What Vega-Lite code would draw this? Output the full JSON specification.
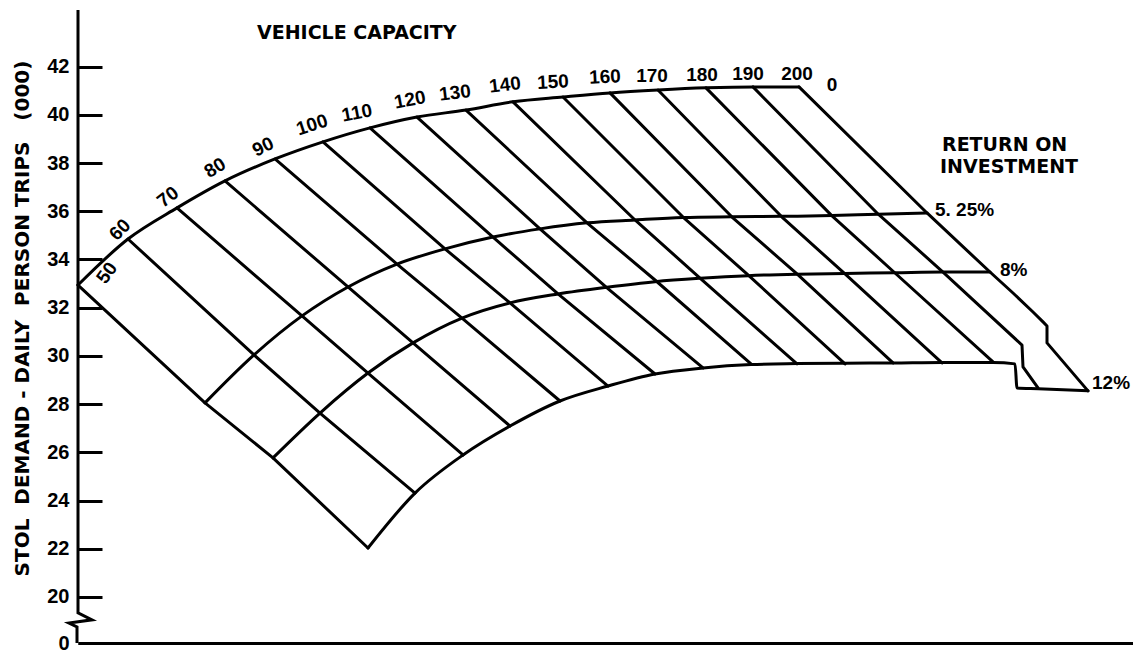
{
  "$schema": "https://vega.github.io/schema/vega-lite/v6.json",
  "width": 1055,
  "height": 633,
  "autosize": {"type": "none"},
  "padding": {"left": 78, "top": 10, "right": 0, "bottom": 9},
  "background": "white",
  "config": {
    "view": {"stroke": null},
    "text": {"font": "Liberation Sans", "fontWeight": "bold", "fontSize": 19, "color": "black"},
    "line": {"color": "black", "strokeWidth": 3, "strokeJoin": "round", "strokeCap": "round"}
  },
  "datasets": {
    "curves": [
      {"family": "cap", "line": "C50", "x": 78, "demand": 32.94},
      {"family": "cap", "line": "C50", "x": 205, "demand": 28.05},
      {"family": "cap", "line": "C50", "x": 273, "demand": 25.77},
      {"family": "cap", "line": "C50", "x": 368, "demand": 22.03},
      {"family": "cap", "line": "C60", "x": 128, "demand": 34.85},
      {"family": "cap", "line": "C60", "x": 254, "demand": 30.04},
      {"family": "cap", "line": "C60", "x": 320, "demand": 27.63},
      {"family": "cap", "line": "C60", "x": 415, "demand": 24.31},
      {"family": "cap", "line": "C70", "x": 177, "demand": 36.14},
      {"family": "cap", "line": "C70", "x": 302, "demand": 31.66},
      {"family": "cap", "line": "C70", "x": 368, "demand": 29.29},
      {"family": "cap", "line": "C70", "x": 463, "demand": 25.89},
      {"family": "cap", "line": "C80", "x": 225, "demand": 37.26},
      {"family": "cap", "line": "C80", "x": 348, "demand": 32.86},
      {"family": "cap", "line": "C80", "x": 413, "demand": 30.54},
      {"family": "cap", "line": "C80", "x": 510, "demand": 27.09},
      {"family": "cap", "line": "C90", "x": 275, "demand": 38.17},
      {"family": "cap", "line": "C90", "x": 397, "demand": 33.81},
      {"family": "cap", "line": "C90", "x": 462, "demand": 31.57},
      {"family": "cap", "line": "C90", "x": 560, "demand": 28.13},
      {"family": "cap", "line": "C100", "x": 323, "demand": 38.88},
      {"family": "cap", "line": "C100", "x": 445, "demand": 34.44},
      {"family": "cap", "line": "C100", "x": 510, "demand": 32.2},
      {"family": "cap", "line": "C100", "x": 608, "demand": 28.75},
      {"family": "cap", "line": "C110", "x": 370, "demand": 39.46},
      {"family": "cap", "line": "C110", "x": 493, "demand": 34.93},
      {"family": "cap", "line": "C110", "x": 558, "demand": 32.57},
      {"family": "cap", "line": "C110", "x": 655, "demand": 29.25},
      {"family": "cap", "line": "C120", "x": 417, "demand": 39.91},
      {"family": "cap", "line": "C120", "x": 540, "demand": 35.27},
      {"family": "cap", "line": "C120", "x": 607, "demand": 32.82},
      {"family": "cap", "line": "C120", "x": 703, "demand": 29.5},
      {"family": "cap", "line": "C130", "x": 466, "demand": 40.2},
      {"family": "cap", "line": "C130", "x": 587, "demand": 35.52},
      {"family": "cap", "line": "C130", "x": 655, "demand": 33.15},
      {"family": "cap", "line": "C130", "x": 751, "demand": 29.67},
      {"family": "cap", "line": "C140", "x": 513, "demand": 40.54},
      {"family": "cap", "line": "C140", "x": 635, "demand": 35.64},
      {"family": "cap", "line": "C140", "x": 700, "demand": 33.23},
      {"family": "cap", "line": "C140", "x": 797, "demand": 29.67},
      {"family": "cap", "line": "C150", "x": 563, "demand": 40.74},
      {"family": "cap", "line": "C150", "x": 683, "demand": 35.76},
      {"family": "cap", "line": "C150", "x": 748, "demand": 33.36},
      {"family": "cap", "line": "C150", "x": 845, "demand": 29.67},
      {"family": "cap", "line": "C160", "x": 610, "demand": 40.91},
      {"family": "cap", "line": "C160", "x": 732, "demand": 35.76},
      {"family": "cap", "line": "C160", "x": 797, "demand": 33.4},
      {"family": "cap", "line": "C160", "x": 893, "demand": 29.71},
      {"family": "cap", "line": "C170", "x": 658, "demand": 41.03},
      {"family": "cap", "line": "C170", "x": 782, "demand": 35.76},
      {"family": "cap", "line": "C170", "x": 845, "demand": 33.4},
      {"family": "cap", "line": "C170", "x": 942, "demand": 29.71},
      {"family": "cap", "line": "C180", "x": 706, "demand": 41.12},
      {"family": "cap", "line": "C180", "x": 832, "demand": 35.81},
      {"family": "cap", "line": "C180", "x": 895, "demand": 33.44},
      {"family": "cap", "line": "C180", "x": 993, "demand": 29.75},
      {"family": "cap", "line": "C190", "x": 753, "demand": 41.16},
      {"family": "cap", "line": "C190", "x": 878, "demand": 35.89},
      {"family": "cap", "line": "C190", "x": 943, "demand": 33.48},
      {"family": "cap", "line": "C190", "x": 1022, "demand": 30.45},
      {"family": "cap", "line": "C190", "x": 1023, "demand": 29.54},
      {"family": "cap", "line": "C190", "x": 1038, "demand": 28.67},
      {"family": "cap", "line": "C200", "x": 799, "demand": 41.16},
      {"family": "cap", "line": "C200", "x": 927, "demand": 35.93},
      {"family": "cap", "line": "C200", "x": 990, "demand": 33.48},
      {"family": "cap", "line": "C200", "x": 1013, "demand": 32.61},
      {"family": "cap", "line": "C200", "x": 1033, "demand": 31.82},
      {"family": "cap", "line": "C200", "x": 1043, "demand": 31.41},
      {"family": "cap", "line": "C200", "x": 1047, "demand": 31.24},
      {"family": "cap", "line": "C200", "x": 1047, "demand": 30.54},
      {"family": "cap", "line": "C200", "x": 1088, "demand": 28.55},

      {"family": "roi", "line": "R0", "x": 78, "demand": 32.94},
      {"family": "roi", "line": "R0", "x": 128, "demand": 34.85},
      {"family": "roi", "line": "R0", "x": 177, "demand": 36.14},
      {"family": "roi", "line": "R0", "x": 225, "demand": 37.26},
      {"family": "roi", "line": "R0", "x": 275, "demand": 38.17},
      {"family": "roi", "line": "R0", "x": 323, "demand": 38.88},
      {"family": "roi", "line": "R0", "x": 370, "demand": 39.46},
      {"family": "roi", "line": "R0", "x": 417, "demand": 39.91},
      {"family": "roi", "line": "R0", "x": 466, "demand": 40.2},
      {"family": "roi", "line": "R0", "x": 513, "demand": 40.54},
      {"family": "roi", "line": "R0", "x": 563, "demand": 40.74},
      {"family": "roi", "line": "R0", "x": 610, "demand": 40.91},
      {"family": "roi", "line": "R0", "x": 658, "demand": 41.03},
      {"family": "roi", "line": "R0", "x": 706, "demand": 41.12},
      {"family": "roi", "line": "R0", "x": 753, "demand": 41.16},
      {"family": "roi", "line": "R0", "x": 799, "demand": 41.16},

      {"family": "roi", "line": "R5.25", "x": 205, "demand": 28.05},
      {"family": "roi", "line": "R5.25", "x": 254, "demand": 30.04},
      {"family": "roi", "line": "R5.25", "x": 302, "demand": 31.66},
      {"family": "roi", "line": "R5.25", "x": 348, "demand": 32.86},
      {"family": "roi", "line": "R5.25", "x": 397, "demand": 33.81},
      {"family": "roi", "line": "R5.25", "x": 445, "demand": 34.44},
      {"family": "roi", "line": "R5.25", "x": 493, "demand": 34.93},
      {"family": "roi", "line": "R5.25", "x": 540, "demand": 35.27},
      {"family": "roi", "line": "R5.25", "x": 587, "demand": 35.52},
      {"family": "roi", "line": "R5.25", "x": 635, "demand": 35.64},
      {"family": "roi", "line": "R5.25", "x": 683, "demand": 35.74},
      {"family": "roi", "line": "R5.25", "x": 732, "demand": 35.77},
      {"family": "roi", "line": "R5.25", "x": 782, "demand": 35.79},
      {"family": "roi", "line": "R5.25", "x": 832, "demand": 35.82},
      {"family": "roi", "line": "R5.25", "x": 878, "demand": 35.88},
      {"family": "roi", "line": "R5.25", "x": 927, "demand": 35.93},

      {"family": "roi", "line": "R8", "x": 273, "demand": 25.77},
      {"family": "roi", "line": "R8", "x": 320, "demand": 27.63},
      {"family": "roi", "line": "R8", "x": 368, "demand": 29.29},
      {"family": "roi", "line": "R8", "x": 413, "demand": 30.54},
      {"family": "roi", "line": "R8", "x": 462, "demand": 31.57},
      {"family": "roi", "line": "R8", "x": 510, "demand": 32.2},
      {"family": "roi", "line": "R8", "x": 558, "demand": 32.57},
      {"family": "roi", "line": "R8", "x": 607, "demand": 32.85},
      {"family": "roi", "line": "R8", "x": 655, "demand": 33.08},
      {"family": "roi", "line": "R8", "x": 700, "demand": 33.22},
      {"family": "roi", "line": "R8", "x": 748, "demand": 33.33},
      {"family": "roi", "line": "R8", "x": 797, "demand": 33.39},
      {"family": "roi", "line": "R8", "x": 845, "demand": 33.42},
      {"family": "roi", "line": "R8", "x": 895, "demand": 33.45},
      {"family": "roi", "line": "R8", "x": 943, "demand": 33.48},
      {"family": "roi", "line": "R8", "x": 990, "demand": 33.48},

      {"family": "roi", "line": "R12", "x": 368, "demand": 22.03},
      {"family": "roi", "line": "R12", "x": 415, "demand": 24.31},
      {"family": "roi", "line": "R12", "x": 463, "demand": 25.89},
      {"family": "roi", "line": "R12", "x": 510, "demand": 27.09},
      {"family": "roi", "line": "R12", "x": 560, "demand": 28.13},
      {"family": "roi", "line": "R12", "x": 608, "demand": 28.75},
      {"family": "roi", "line": "R12", "x": 655, "demand": 29.25},
      {"family": "roi", "line": "R12", "x": 703, "demand": 29.5},
      {"family": "roi", "line": "R12", "x": 751, "demand": 29.64},
      {"family": "roi", "line": "R12", "x": 797, "demand": 29.68},
      {"family": "roi", "line": "R12", "x": 845, "demand": 29.7},
      {"family": "roi", "line": "R12", "x": 893, "demand": 29.71},
      {"family": "roi", "line": "R12", "x": 942, "demand": 29.73},
      {"family": "roi", "line": "R12", "x": 993, "demand": 29.73},
      {"family": "roi", "line": "R12", "x": 1015, "demand": 29.67},
      {"family": "roi", "line": "R12", "x": 1017, "demand": 28.67},
      {"family": "roi", "line": "R12", "x": 1038, "demand": 28.64},
      {"family": "roi", "line": "R12", "x": 1088, "demand": 28.55}
    ],
    "axisline": [
      {"x": 78, "demand": 44.35},
      {"x": 78, "demand": 19.34},
      {"x": 92, "demand": 19.05},
      {"x": 69, "demand": 18.92},
      {"x": 77, "demand": 18.76},
      {"x": 77, "demand": 18.09}
    ],
    "caplabels": [
      {"label": "50", "x": 107, "demand": 33.44},
      {"label": "60", "x": 120, "demand": 35.23},
      {"label": "70", "x": 168, "demand": 36.59},
      {"label": "80", "x": 215, "demand": 37.8},
      {"label": "90", "x": 263, "demand": 38.67},
      {"label": "100", "x": 312, "demand": 39.58},
      {"label": "110", "x": 357, "demand": 40.08},
      {"label": "120", "x": 410, "demand": 40.62},
      {"label": "130", "x": 455, "demand": 40.91},
      {"label": "140", "x": 505, "demand": 41.24},
      {"label": "150", "x": 553, "demand": 41.36},
      {"label": "160", "x": 605, "demand": 41.57},
      {"label": "170", "x": 652, "demand": 41.61},
      {"label": "180", "x": 702, "demand": 41.66},
      {"label": "190", "x": 748, "demand": 41.7},
      {"label": "200", "x": 797, "demand": 41.7},
      {"label": "0", "x": 832, "demand": 41.24}
    ],
    "roilabels": [
      {"label": "5. 25%", "x": 935, "demand": 36.05},
      {"label": "8%", "x": 1000, "demand": 33.57},
      {"label": "12%", "x": 1092, "demand": 28.88}
    ],
    "titles": [
      {"label": "VEHICLE CAPACITY", "x": 257, "demand": 43.4},
      {"label": "RETURN ON", "x": 942, "demand": 38.77},
      {"label": "INVESTMENT", "x": 940, "demand": 37.82}
    ]
  },
  "encoding": {
    "x": {
      "field": "x", "type": "quantitative",
      "scale": {"domain": [78, 1133], "nice": false, "zero": false},
      "axis": {"domain": true, "domainWidth": 3, "domainColor": "black", "ticks": false, "labels": false, "grid": false, "title": null}
    },
    "y": {
      "field": "demand", "type": "quantitative",
      "scale": {"domain": [18.09, 44.35], "nice": false, "zero": false},
      "axis": {
        "values": [18.09, 20, 22, 24, 26, 28, 30, 32, 34, 36, 38, 40, 42],
        "labelExpr": "datum.value < 19 ? '0' : datum.label",
        "domain": false, "grid": false,
        "tickSize": -24, "tickWidth": 3, "tickColor": "black",
        "labelFont": "Liberation Sans", "labelFontWeight": "bold", "labelFontSize": 20, "labelColor": "black",
        "labelPadding": 33, "labelFlush": false, "labelOverlap": false, "labelBound": false,
        "title": "STOL\u00a0 DEMAND - DAILY\u00a0 PERSON TRIPS\u00a0 \u00a0(000)",
        "titleFont": "DejaVu Sans", "titleFontWeight": "bold", "titleFontSize": 20, "titleColor": "black",
        "titlePadding": 14, "titleY": 308
      }
    }
  },
  "layer": [
    {
      "data": {"name": "curves"},
      "transform": [{"filter": "datum.family == 'cap'"}],
      "mark": {"type": "line", "interpolate": "linear"},
      "encoding": {"detail": {"field": "line"}, "order": {"field": "demand", "sort": "descending"}}
    },
    {
      "data": {"name": "curves"},
      "transform": [{"filter": "datum.family == 'roi'"}],
      "mark": {"type": "line", "interpolate": "monotone"},
      "encoding": {"detail": {"field": "line"}, "order": {"field": "x", "sort": "ascending"}}
    },
    {
      "data": {"name": "axisline"},
      "mark": {"type": "line", "strokeJoin": "miter", "strokeCap": "butt"},
      "encoding": {"order": {"field": "demand", "sort": "descending"}}
    },
    {"data": {"name": "caplabels"}, "transform": [{"filter": {"field": "label", "oneOf": ["50"]}}], "mark": {"type": "text", "angle": 305}, "encoding": {"text": {"field": "label"}}},
    {"data": {"name": "caplabels"}, "transform": [{"filter": {"field": "label", "oneOf": ["60"]}}], "mark": {"type": "text", "angle": 315}, "encoding": {"text": {"field": "label"}}},
    {"data": {"name": "caplabels"}, "transform": [{"filter": {"field": "label", "oneOf": ["70"]}}], "mark": {"type": "text", "angle": 322}, "encoding": {"text": {"field": "label"}}},
    {"data": {"name": "caplabels"}, "transform": [{"filter": {"field": "label", "oneOf": ["80"]}}], "mark": {"type": "text", "angle": 328}, "encoding": {"text": {"field": "label"}}},
    {"data": {"name": "caplabels"}, "transform": [{"filter": {"field": "label", "oneOf": ["90"]}}], "mark": {"type": "text", "angle": 334}, "encoding": {"text": {"field": "label"}}},
    {"data": {"name": "caplabels"}, "transform": [{"filter": {"field": "label", "oneOf": ["100"]}}], "mark": {"type": "text", "angle": 342}, "encoding": {"text": {"field": "label"}}},
    {"data": {"name": "caplabels"}, "transform": [{"filter": {"field": "label", "oneOf": ["110", "120"]}}], "mark": {"type": "text", "angle": 349}, "encoding": {"text": {"field": "label"}}},
    {"data": {"name": "caplabels"}, "transform": [{"filter": {"field": "label", "oneOf": ["130", "140"]}}], "mark": {"type": "text", "angle": 353}, "encoding": {"text": {"field": "label"}}},
    {"data": {"name": "caplabels"}, "transform": [{"filter": {"field": "label", "oneOf": ["150", "160"]}}], "mark": {"type": "text", "angle": 357}, "encoding": {"text": {"field": "label"}}},
    {"data": {"name": "caplabels"}, "transform": [{"filter": {"field": "label", "oneOf": ["170", "180", "190", "200", "0"]}}], "mark": {"type": "text", "angle": 0}, "encoding": {"text": {"field": "label"}}},
    {"data": {"name": "roilabels"}, "mark": {"type": "text", "align": "left", "baseline": "middle"}, "encoding": {"text": {"field": "label"}}},
    {"data": {"name": "titles"}, "mark": {"type": "text", "align": "left", "baseline": "middle", "font": "DejaVu Sans", "fontSize": 19}, "encoding": {"text": {"field": "label"}}}
  ]
}
